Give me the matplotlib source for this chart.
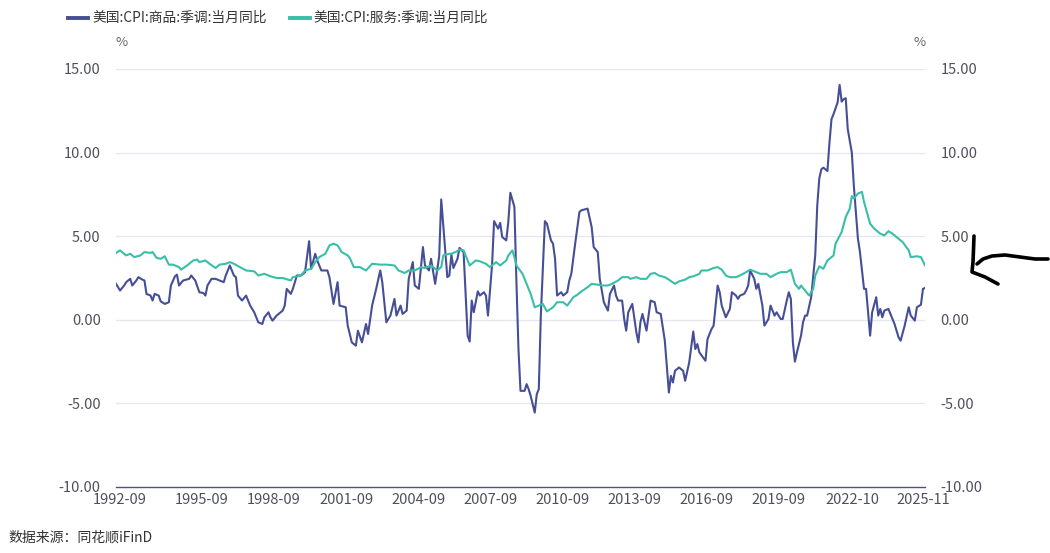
import matplotlib
matplotlib.use("Agg")
import matplotlib.pyplot as plt
from matplotlib.lines import Line2D
import pandas as pd

plt.rcParams['font.family'] = ['Noto Sans CJK SC', 'DejaVu Sans']

# monthly category axis
months = [str(p) for p in pd.period_range('1992-09', '2025-11', freq='M')]

goods_name = "美国:CPI:商品:季调:当月同比"
services_name = "美国:CPI:服务:季调:当月同比"

goods_idx = [0,2,4,5,7,8,10,11,13,14,15,17,18,19,21,22,24,26,27,29,30,31,33,36,37,39,41,43,44,45,47,49,51,53,54,56,58,59,60,62,64,66,68,70,72,73,75,76,77,79,82,83,84,86,87,89,91,93,95,96,98,99,101,104,105,107,109,110,113,114,116,118,119,121,123,124,126,128,130,131,133,135,137,138,140,141,143,144,146,147,149,151,152,154,155,157,159,160,163,164,165,166,168,169,171,173,174,175,176,178,179,181,182,183,185,186,188,189,190,192,193,194,196,197,198,199,201,202,203,204,206,207,208,209,211,212,214,215,216,217,219,220,222,223,224,226,228,229,232,234,235,237,238,240,242,243,245,246,247,249,250,251,252,254,256,257,258,259,261,263,265,266,268,270,272,273,274,275,277,279,280,282,284,285,286,287,290,291,293,294,296,297,298,300,302,303,305,306,307,309,310,311,312,314,315,316,318,319,321,322,324,325,327,328,330,331,332,333,334,335,337,338,339,340,342,344,345,346,347,348,350,351,352,353,355,356,357,358,359,360,362,363,365,366,368,369,371,372,374,375,376,377,378,380,382,383,385,386,388,390,391,393,394,396,397,398]
goods_vals = [2.15,1.75,2.05,2.25,2.45,2.05,2.35,2.55,2.4,2.35,1.55,1.45,1.15,1.55,1.45,1.1,0.95,1.05,2.05,2.6,2.7,2.05,2.35,2.45,2.65,2.35,1.65,1.6,1.45,2.05,2.45,2.45,2.35,2.25,2.65,3.25,2.65,2.55,1.45,1.15,1.45,0.85,0.45,-0.15,-0.25,0.15,0.45,0.15,-0.05,0.25,0.55,0.85,1.85,1.55,1.85,2.65,2.65,2.85,4.7,3.05,3.95,3.55,2.95,2.95,2.55,0.95,2.25,0.85,0.75,-0.35,-1.35,-1.55,-0.65,-1.35,-0.25,-0.85,0.85,1.85,2.95,2.25,-0.15,0.25,1.25,0.25,0.85,0.35,0.55,2.45,3.45,2.05,1.85,4.35,3.25,2.95,3.65,2.15,3.8,7.2,2.55,2.65,3.9,3.1,3.65,4.3,4.05,-0.95,-1.3,1.15,0.45,1.7,1.45,1.65,1.45,0.25,3.25,5.9,5.45,5.8,4.95,4.75,5.85,7.6,6.75,2.25,-1.75,-4.25,-4.25,-3.85,-4.15,-4.55,-5.55,-4.45,-4.15,0.25,5.9,5.75,4.75,4.55,3.65,1.45,1.65,1.45,1.65,2.35,2.75,4.65,6.45,6.55,6.65,5.55,4.35,4.05,2.45,1.05,0.55,1.55,2.05,1.45,1.15,1.15,0.05,-0.65,0.45,0.95,-0.75,-1.35,-0.15,0.35,-0.65,1.15,1.05,0.45,0.35,-1.25,-4.35,-3.35,-3.75,-3.05,-2.85,-3.05,-3.65,-2.55,-0.7,-1.75,-1.45,-1.95,-2.45,-1.15,-0.55,-0.35,2.05,1.65,0.85,0.15,0.65,1.65,1.45,1.25,1.45,1.55,1.75,2.05,2.95,2.45,1.85,2.15,0.85,-0.35,0.05,0.85,0.25,0.45,0.05,0.05,1.15,1.65,1.25,-1.35,-2.5,-1.95,-0.95,-0.15,0.25,0.25,1.35,3.85,6.85,8.45,9.0,9.1,8.9,10.6,12.0,12.3,13.0,14.05,13.05,13.2,13.25,11.4,10.0,8.0,4.85,4.05,1.85,1.85,-0.95,0.45,1.35,0.25,0.65,0.15,0.55,0.65,0.05,-0.25,-1.05,-1.25,-0.35,0.75,0.25,-0.05,0.75,0.9,1.85,1.9]

services_idx = [0,2,5,7,9,12,14,17,18,20,22,24,26,28,31,32,35,38,40,41,44,46,49,51,54,56,58,61,64,68,70,73,76,79,82,86,87,91,93,96,98,100,103,105,107,109,111,114,115,117,120,123,126,130,133,137,139,142,144,147,150,152,155,158,160,161,164,165,167,169,171,172,174,177,179,182,184,187,189,192,193,195,196,197,200,202,204,206,208,210,212,215,217,220,222,225,227,229,232,234,237,239,242,244,247,249,252,253,256,258,261,263,265,267,270,272,275,277,280,282,284,287,288,291,294,296,298,300,302,305,307,310,312,315,317,320,322,325,327,330,332,334,336,337,339,341,343,344,346,348,350,353,354,357,359,361,362,363,365,367,368,371,373,376,378,380,382,385,387,390,391,394,396,398]
services_vals = [4.0,4.15,3.85,3.95,3.75,3.85,4.05,4.0,4.05,3.7,3.65,3.8,3.3,3.3,3.15,3.0,3.25,3.55,3.6,3.45,3.55,3.35,3.1,3.3,3.35,3.45,3.35,3.15,2.95,2.9,2.65,2.75,2.6,2.5,2.5,2.35,2.55,2.65,2.95,3.05,3.45,3.75,3.95,4.45,4.55,4.45,4.05,3.85,3.7,3.15,3.15,2.95,3.35,3.3,3.3,3.25,2.95,2.8,2.95,2.95,3.15,3.1,3.25,2.95,3.15,3.85,3.95,3.95,4.05,4.2,4.15,3.85,3.25,3.55,3.5,3.35,3.15,3.45,3.25,3.55,3.85,4.15,3.75,3.25,2.75,2.15,1.55,0.75,0.85,0.95,0.5,0.75,1.05,1.05,0.85,1.35,1.5,1.7,1.95,2.15,2.1,2.05,2.05,2.15,2.35,2.55,2.55,2.45,2.55,2.45,2.45,2.75,2.8,2.65,2.55,2.4,2.15,2.3,2.4,2.55,2.6,2.75,2.95,2.95,3.1,3.15,3.0,2.65,2.55,2.55,2.65,2.85,3.0,2.85,2.75,2.75,2.55,2.75,2.85,2.85,3.0,2.15,1.85,2.05,1.75,1.45,1.85,2.65,3.2,3.05,3.55,3.85,4.55,5.25,6.15,6.65,7.4,7.25,7.55,7.65,7.05,5.75,5.45,5.15,5.05,5.3,5.15,4.85,4.65,4.15,3.75,3.8,3.75,3.25]

tick_labels = ["1992-09", "1995-09", "1998-09", "2001-09", "2004-09", "2007-09",
               "2010-09", "2013-09", "2016-09", "2019-09", "2022-10", "2025-11"]
tick_pos = [2, 42.3, 77.7, 113.2, 148.6, 184.0, 219.9, 254.8, 290.3, 325.7, 362.1, 397.0]

y_ticks = [-10, -5, 0, 5, 10, 15]

c_goods = "#464f95"
c_serv = "#38bfa7"
txt = "#50505c"

W, H = 1050, 553
fig = plt.figure(figsize=(W / 100, H / 100), dpi=100)
ax = fig.add_axes([116 / W, 1 - 487 / H, (925 - 116) / W, (487 - 69) / H])

ax.plot(goods_idx, goods_vals, color=c_goods, lw=1.5, solid_joinstyle='round', zorder=3)
ax.plot(services_idx, services_vals, color=c_serv, lw=1.5, solid_joinstyle='round', zorder=3)

ax.set_xlim(0, len(months) - 1)
ax.set_ylim(-10, 15)
ax.set_yticks(y_ticks)
ax.set_yticklabels([f"{v:.2f}" for v in y_ticks])
for v in y_ticks[1:]:
    ax.axhline(v, color="#e6e6f0", lw=0.9, zorder=1)
for s in ["top", "right", "left"]:
    ax.spines[s].set_visible(False)
ax.spines["bottom"].set_color("#4c5282")
ax.spines["bottom"].set_linewidth(1.0)
ax.set_xticks(tick_pos)
ax.set_xticklabels(tick_labels)
ax.tick_params(axis="x", length=0, pad=4, labelsize=10.5, labelcolor=txt)
ax.tick_params(axis="y", length=0, pad=11, labelsize=10.5, labelcolor=txt)

ax2 = ax.twinx()
ax2.set_ylim(-10, 15)
ax2.set_yticks(y_ticks)
ax2.set_yticklabels([f"{v:.2f}" for v in y_ticks])
for s in ["top", "right", "left", "bottom"]:
    ax2.spines[s].set_visible(False)
ax2.tick_params(axis="y", length=0, pad=11, labelsize=10.5, labelcolor=txt)

def fx(x):
    return x / W
def fy(y):
    return 1 - y / H

# unit labels
fig.text(fx(122), fy(43), "%", ha="center", va="center", fontsize=9.5, color="#666670")
fig.text(fx(920), fy(43), "%", ha="center", va="center", fontsize=9.5, color="#666670")

# legend
fig.add_artist(Line2D([fx(68), fx(88)], [fy(18), fy(18)], color=c_goods, lw=2.8))
fig.text(fx(92), fy(18), goods_name, ha="left", va="center", fontsize=9.9, color="#333333")
fig.add_artist(Line2D([fx(290), fx(310)], [fy(18), fy(18)], color=c_serv, lw=2.8))
fig.text(fx(313), fy(18), services_name, ha="left", va="center", fontsize=9.9, color="#333333")

# source
fig.text(fx(8), fy(538), "数据来源：同花顺iFinD", ha="left", va="center", fontsize=10, color="#333333")

# hand-drawn arrow scribble
s1x = [974, 973.5, 973, 972, 985, 998]
s1y = [236, 250, 262, 272, 277, 284]
s2x = [977, 983, 992, 1005, 1020, 1035, 1048]
s2y = [264, 259, 256, 255, 257, 259, 259]
fig.add_artist(Line2D([fx(v) for v in s1x], [fy(v) for v in s1y], color="black", lw=2.6,
                      solid_capstyle="round", solid_joinstyle="round"))
fig.add_artist(Line2D([fx(v) for v in s2x], [fy(v) for v in s2y], color="black", lw=2.6,
                      solid_capstyle="round", solid_joinstyle="round"))

fig.savefig("out.png", dpi=100)
